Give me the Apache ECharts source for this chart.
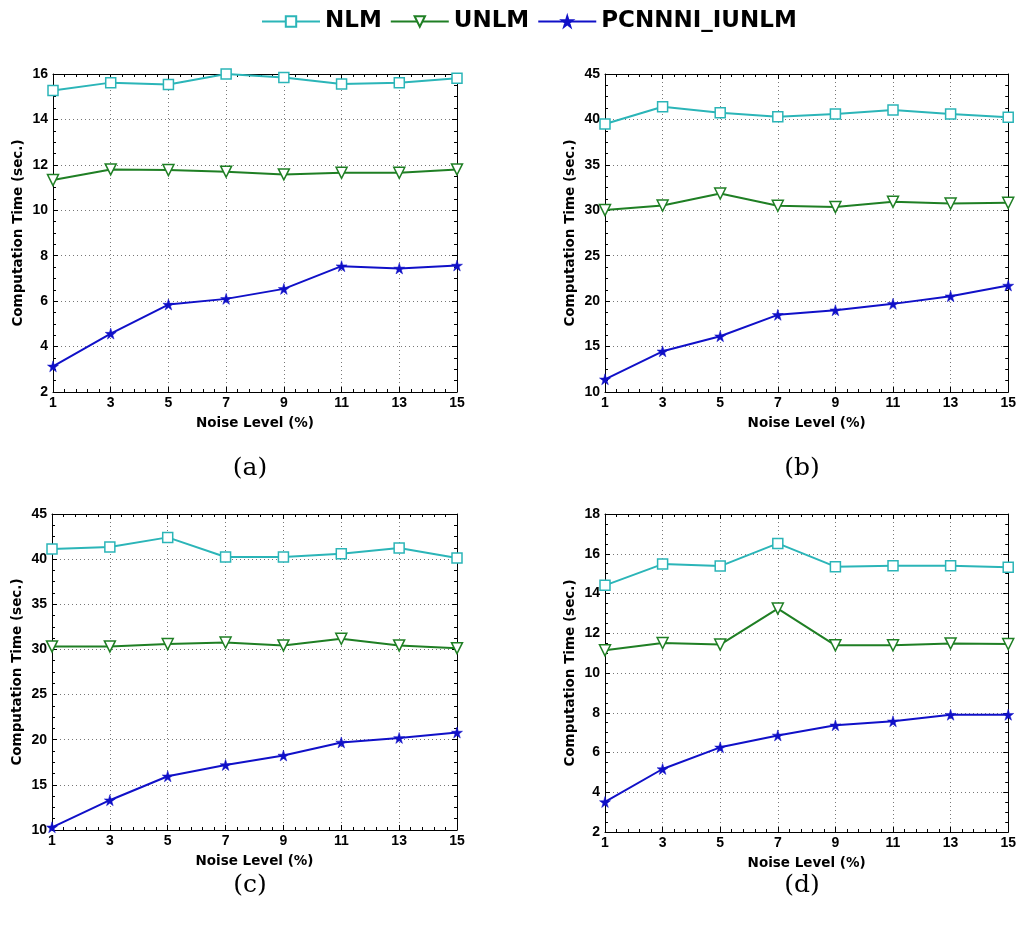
<!DOCTYPE html>
<html>
<head>
<meta charset="utf-8">
<script src="https://cdn.jsdelivr.net/npm/echarts@6/dist/echarts.min.js"></script>
<style>
  html, body { margin: 0; padding: 0; background: #fff; }
  #chart { width: 1019px; height: 925px; }
</style>
</head>
<body>
<div id="chart"></div>
<script>
// noise level (%) on x
const noiseLevels = [1, 3, 5, 7, 9, 11, 13, 15];

// (a)
const nlmA = [15.27, 15.62, 15.54, 16.0, 15.85, 15.56, 15.62, 15.81];
const unlmA = [11.33, 11.8, 11.77, 11.7, 11.58, 11.65, 11.65, 11.8];
const pcnA = [3.13, 4.57, 5.85, 6.1, 6.54, 7.54, 7.44, 7.57];
// (b)
const nlmB = [39.5, 41.4, 40.74, 40.3, 40.6, 41.03, 40.6, 40.23];
const unlmB = [30.02, 30.53, 31.85, 30.5, 30.35, 30.93, 30.75, 30.82];
const pcnB = [11.4, 14.48, 16.14, 18.49, 19.0, 19.7, 20.54, 21.72];
// (c)
const nlmC = [41.12, 41.34, 42.41, 40.23, 40.23, 40.6, 41.23, 40.12];
const unlmC = [30.33, 30.33, 30.59, 30.77, 30.44, 31.18, 30.44, 30.14];
const pcnC = [10.3, 13.3, 15.95, 17.2, 18.25, 19.7, 20.2, 20.8];
// (d)
const nlmD = [14.41, 15.48, 15.38, 16.52, 15.35, 15.4, 15.4, 15.32];
const unlmD = [11.14, 11.51, 11.43, 13.24, 11.39, 11.39, 11.49, 11.46];
const pcnD = [3.51, 5.17, 6.26, 6.86, 7.37, 7.57, 7.9, 7.9];

// y axis ranges per panel: [min, max, interval]
const yRanges = [[2, 16, 2], [10, 45, 5], [10, 45, 5], [2, 18, 2]];
const captions = ['(a)', '(b)', '(c)', '(d)'];
const panels = [
  [nlmA, unlmA, pcnA],
  [nlmB, unlmB, pcnB],
  [nlmC, unlmC, pcnC],
  [nlmD, unlmD, pcnD]
];

const names = ['NLM', 'UNLM', 'PCNNNI_IUNLM'];
const colors = ['#2bb5b8', '#1f7f24', '#1010c8'];
const star = 'path://M50,0 L61,35 L98,35 L68,57 L79,91 L50,70 L21,91 L32,57 L2,35 L39,35 Z';

const grids = [
  { left: 53, top: 74, width: 404, height: 318 },
  { left: 605, top: 74, width: 405, height: 318 },
  { left: 52, top: 514, width: 405, height: 316 },
  { left: 605, top: 514, width: 405, height: 318 }
];
const capPos = [[245, 451], [797, 451], [245, 868], [797, 868]];

const font = 'Liberation Sans, Arial, sans-serif';
const wideFont = 'DejaVu Sans, Verdana, sans-serif';
const lab = { color: '#000', fontFamily: font, fontWeight: 'bold', fontSize: 14 };
const nameStyle = { color: '#000', fontFamily: wideFont, fontWeight: 'bold', fontSize: 13.5 };
const axLine = { show: true, lineStyle: { color: '#000', width: 1 } };

let xAxis = [], yAxis = [], series = [], title = [];

panels.forEach((p, i) => {
  const [ymin, ymax, yint] = yRanges[i];
  // bottom x axis
  xAxis.push({
    type: 'value', gridIndex: i, min: 1, max: 15, interval: 2,
    name: 'Noise Level (%)', nameLocation: 'middle', nameGap: 24,
    nameTextStyle: nameStyle,
    axisLine: axLine,
    axisTick: { inside: true, length: 5, lineStyle: { color: '#000' } },
    minorTick: { show: true, splitNumber: 5, length: 3, lineStyle: { color: '#000' } },
    axisLabel: Object.assign({ margin: 4 }, lab),
    splitLine: { show: true, lineStyle: { color: '#777', type: [1, 3] } }
  });
  // top mirror
  xAxis.push({
    type: 'value', gridIndex: i, position: 'top', min: 1, max: 15, interval: 2,
    axisLine: axLine,
    axisTick: { inside: true, length: 5, lineStyle: { color: '#000' } },
    minorTick: { show: true, splitNumber: 5, length: 3, lineStyle: { color: '#000' } },
    axisLabel: { show: false }, splitLine: { show: false }
  });
  yAxis.push({
    type: 'value', gridIndex: i, min: ymin, max: ymax, interval: yint,
    name: 'Computation Time (sec.)', nameLocation: 'middle', nameGap: 28,
    nameTextStyle: nameStyle,
    axisLine: axLine,
    axisTick: { inside: true, length: 5, lineStyle: { color: '#000' } },
    minorTick: { show: true, splitNumber: 4, length: 3, lineStyle: { color: '#000' } },
    axisLabel: Object.assign({ margin: 5 }, lab),
    splitLine: { show: true, lineStyle: { color: '#777', type: [1, 3] } }
  });
  yAxis.push({
    type: 'value', gridIndex: i, position: 'right', min: ymin, max: ymax, interval: yint,
    axisLine: axLine,
    axisTick: { inside: true, length: 5, lineStyle: { color: '#000' } },
    minorTick: { show: true, splitNumber: 4, length: 3, lineStyle: { color: '#000' } },
    axisLabel: { show: false }, splitLine: { show: false }
  });

  p.forEach((vals, k) => {
    let s = {
      name: names[k], type: 'line',
      xAxisIndex: i * 2, yAxisIndex: i * 2,
      data: noiseLevels.map((x, j) => [x, vals[j]]),
      lineStyle: { color: colors[k], width: 2 },
      itemStyle: { color: colors[k] },
      z: 3 + k
    };
    if (k === 0) {
      s.symbol = 'rect'; s.symbolSize = 10;
      s.itemStyle = { color: '#fff', borderColor: colors[k], borderWidth: 1.5 };
    } else if (k === 1) {
      s.symbol = 'triangle'; s.symbolRotate = 180; s.symbolSize = 11;
      s.itemStyle = { color: '#fff', borderColor: colors[k], borderWidth: 1.5 };
    } else {
      s.symbol = star; s.symbolSize = 11;
      s.itemStyle = { color: colors[k], borderColor: colors[k], borderWidth: 0.5 };
    }
    series.push(s);
  });

  title.push({
    text: captions[i], left: capPos[i][0], top: capPos[i][1],
    textAlign: 'center',
    textStyle: { fontFamily: 'DejaVu Serif, Liberation Serif, serif', fontWeight: 'normal', fontSize: 25, color: '#000' }
  });
});

const chart = echarts.init(document.getElementById('chart'));
chart.setOption({
  animation: false,
  backgroundColor: '#fff',
  title: title,
  legend: {
    data: names,
    top: 5, left: 256,
    itemWidth: 58, itemHeight: 13, itemGap: 8,
    textStyle: { color: '#000', fontFamily: wideFont, fontWeight: 'bold', fontSize: 23 }
  },
  grid: grids,
  xAxis: xAxis,
  yAxis: yAxis,
  series: series
});
</script>
</body>
</html>
